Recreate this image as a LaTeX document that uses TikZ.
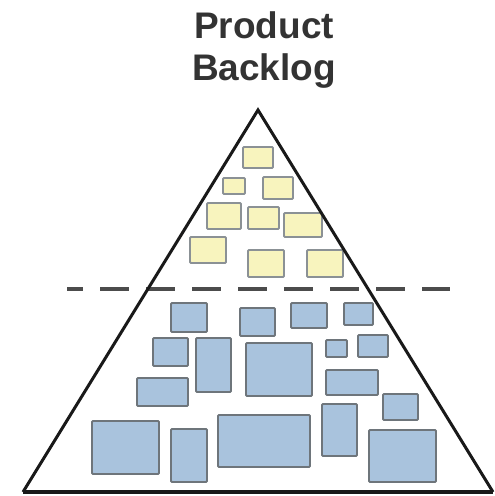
\documentclass[tikz,border=0pt]{standalone}
\usepackage{fontspec}
\setmainfont{Liberation Sans}
\usetikzlibrary{positioning}
\definecolor{itemyellow}{HTML}{F8F4BE}
\definecolor{itemblue}{HTML}{A9C3DD}
\definecolor{itemedge}{HTML}{6E757B}
\tikzstyle{title} = [align=center, text=black!80, inner sep=0pt, font=\fontsize{37}{42}\selectfont\bfseries]
\tikzstyle{pyramid} = [line width=3pt, black!90, line join=miter]
\tikzstyle{cut} = [line width=3.4pt, black!70, dash pattern=on 29pt off 17pt, dash phase=13pt]
\tikzstyle{ready} = [draw=itemedge!80, fill=itemyellow, line width=1.8pt, rounded corners=1pt]
\tikzstyle{later} = [draw=itemedge, fill=itemblue, line width=1.8pt, rounded corners=1pt]

\begin{document}
\begin{tikzpicture}[x=1pt, y=-1pt]
\useasboundingbox (0,0) rectangle (495,496);
\node (head) [title, anchor=base] at (264,80) {Product\\Backlog};

\coordinate (top) at (258,110);
\coordinate (left) at (23,492);
\coordinate (right) at (493,492);
\coordinate (cutL) at (67,289);
\coordinate (cutR) at (450,289);

% items near the top of the backlog
\draw [ready] (243,147) rectangle (273,168);
\draw [ready] (223,178) rectangle (245,194);
\draw [ready] (263,177) rectangle (293,199);
\draw [ready] (207,203) rectangle (241,229);
\draw [ready] (248,207) rectangle (279,229);
\draw [ready] (284,213) rectangle (322,237);
\draw [ready] (190,237) rectangle (226,263);
\draw [ready] (248,250) rectangle (284,277);
\draw [ready] (307,250) rectangle (343,277);

% items further down
\draw [later] (171,303) rectangle (207,332);
\draw [later] (240,308) rectangle (275,336);
\draw [later] (291,303) rectangle (327,328);
\draw [later] (344,303) rectangle (373,325);
\draw [later] (153,338) rectangle (188,366);
\draw [later] (196,338) rectangle (231,392);
\draw [later] (246,343) rectangle (312,396);
\draw [later] (326,340) rectangle (347,357);
\draw [later] (358,335) rectangle (388,357);
\draw [later] (137,378) rectangle (188,406);
\draw [later] (326,370) rectangle (378,395);
\draw [later] (383,394) rectangle (418,420);
\draw [later] (92,421) rectangle (159,474);
\draw [later] (171,429) rectangle (207,482);
\draw [later] (218,415) rectangle (310,467);
\draw [later] (322,404) rectangle (357,456);
\draw [later] (369,430) rectangle (436,482);

\draw [cut] (cutL) -- (cutR);
\draw [pyramid] (left) -- (top) -- (right);
\draw [pyramid, line width=3.5pt] (left) -- (right);
\end{tikzpicture}
\end{document}
